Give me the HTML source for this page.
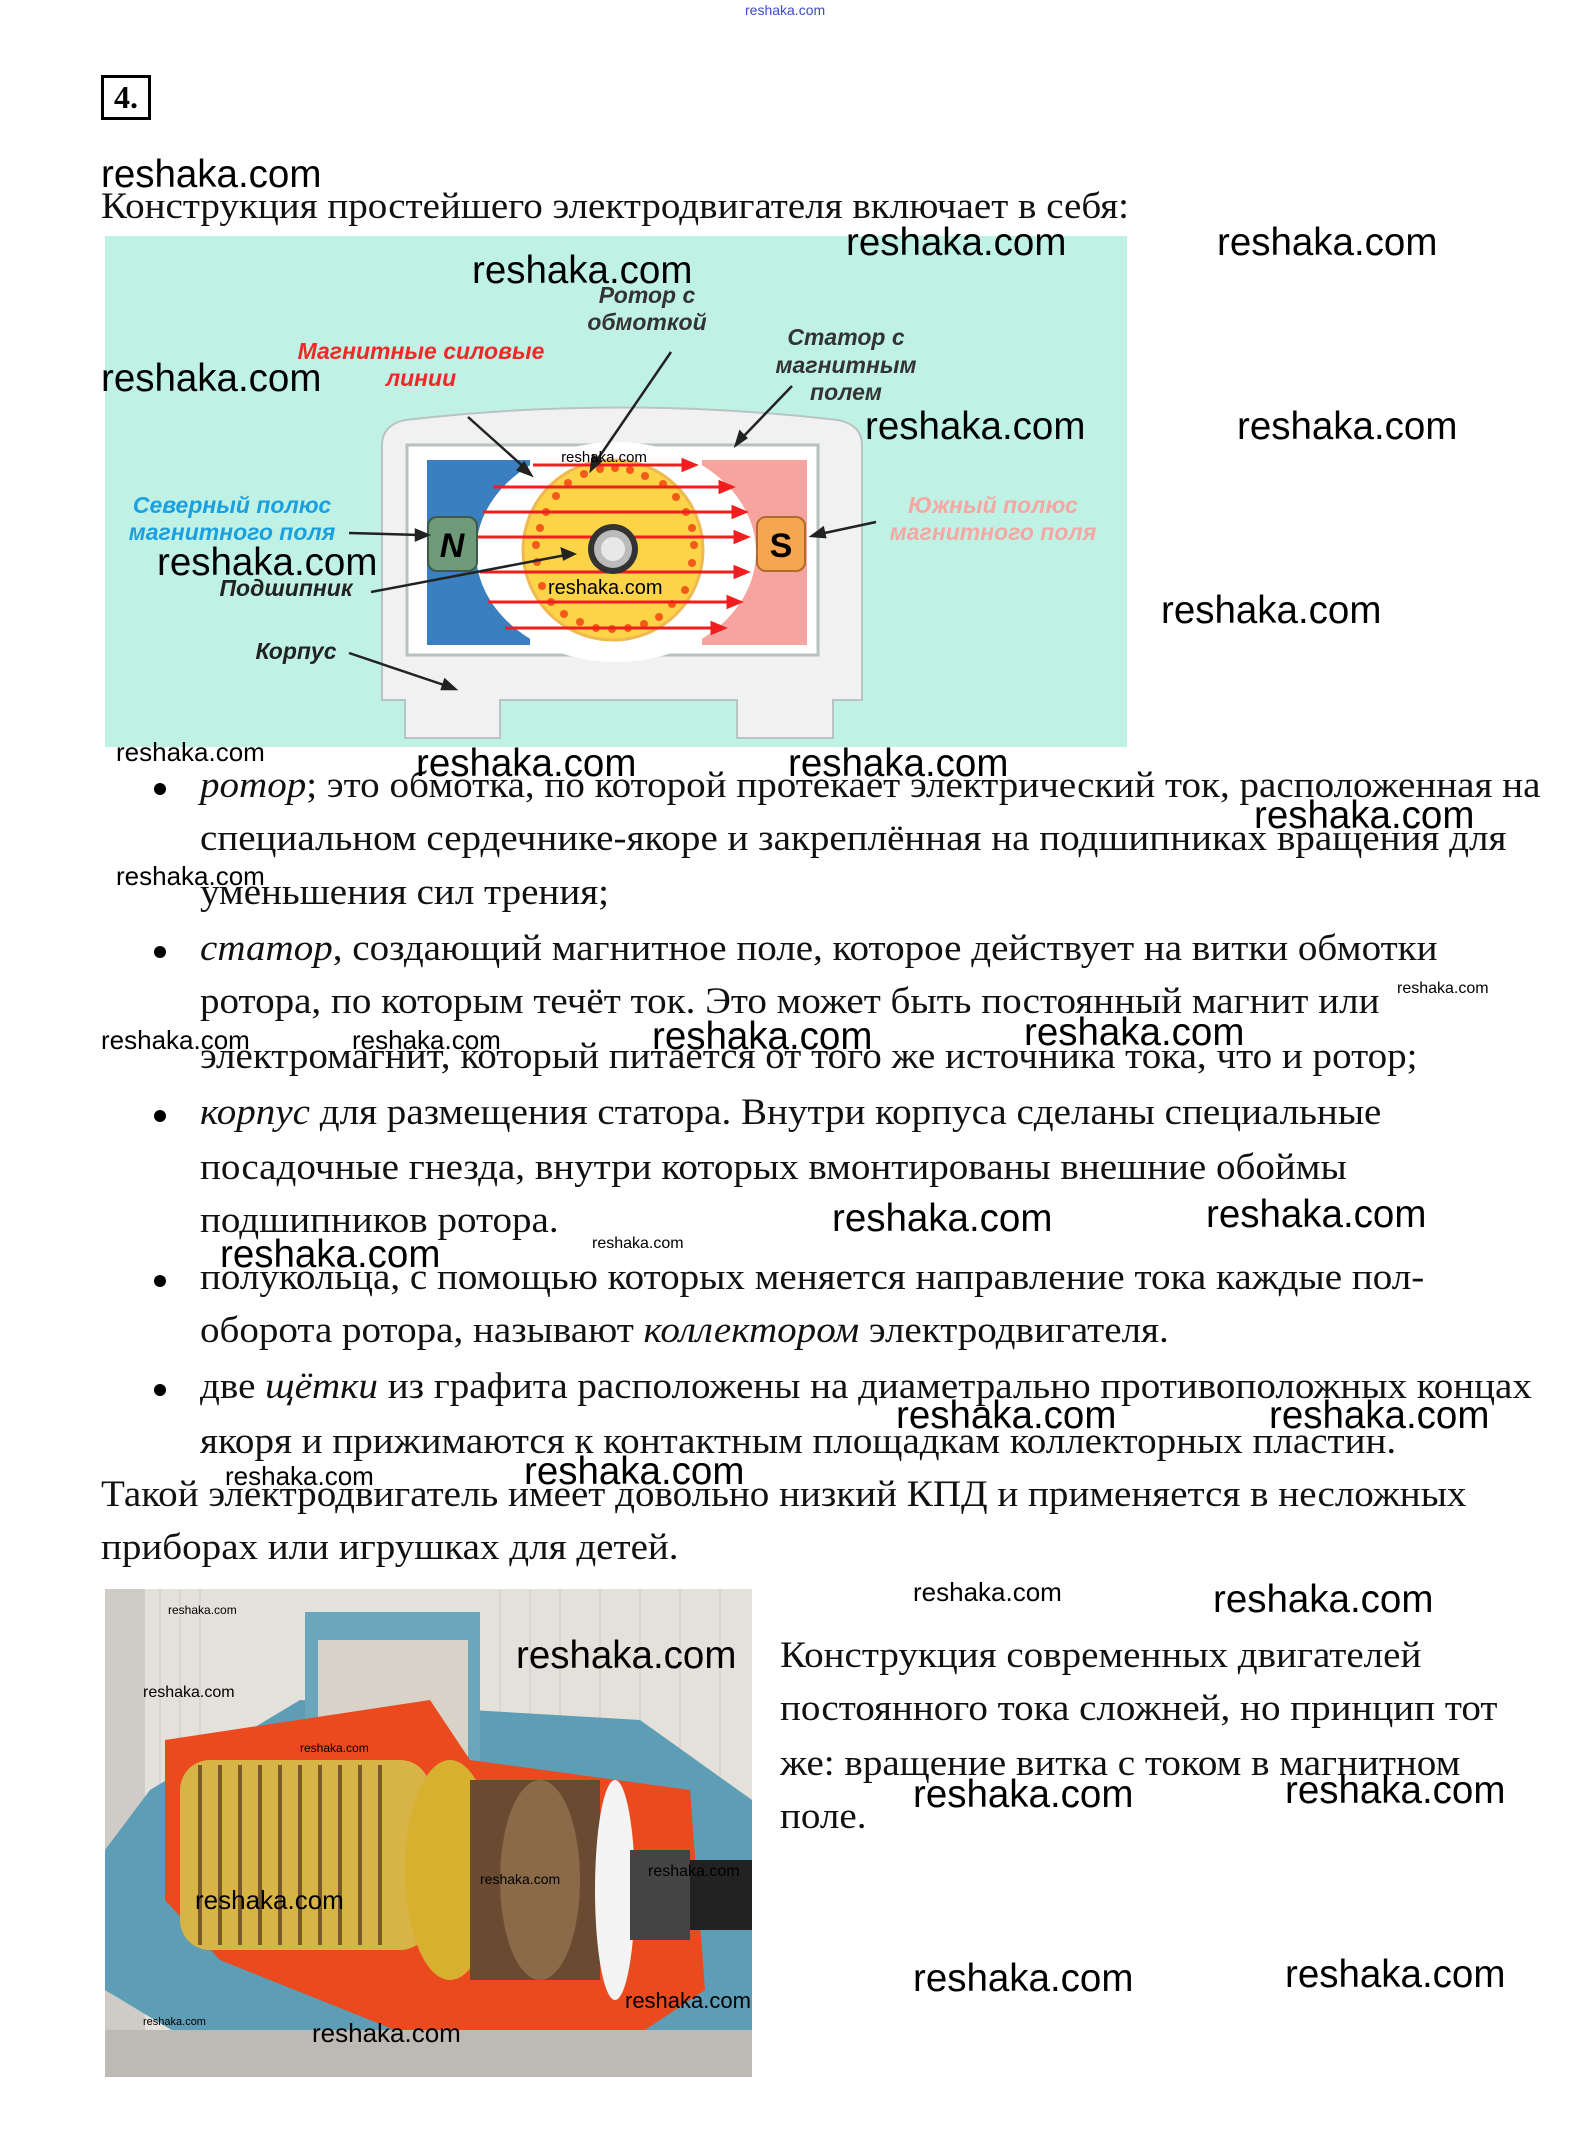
<!DOCTYPE html>
<html><head><meta charset="utf-8">
<style>
html,body{margin:0;padding:0;background:#fff;}
body{width:1582px;height:2137px;position:relative;overflow:hidden;}
.t{position:absolute;font-family:"Liberation Serif","Noto Serif CJK SC",serif;font-size:37px;line-height:44px;color:#111;white-space:nowrap;transform:scaleX(1.055);transform-origin:0 50%;}
.w{position:absolute;font-family:"Liberation Sans","DejaVu Sans",sans-serif;color:#000;white-space:nowrap;line-height:1.2;}
.b{font-size:38.5px}.s{font-size:26px}.x{font-size:16px}
.dot{position:absolute;width:12px;height:12px;border-radius:50%;background:#000;left:154px;}
</style></head><body>

<div class="w" style="left:745px;top:2px;font-size:14px;color:#3a4cc8;">reshaka.com</div>
<div style="position:absolute;left:101px;top:75px;width:44px;height:39px;border:3px solid #000;font-family:'Liberation Serif',serif;font-weight:bold;font-size:32px;line-height:39px;text-align:center;">4.</div>

<div class="t" style="left:101px;top:185px;">Конструкция простейшего электродвигателя включает в себя:</div>

<svg style="position:absolute;left:0;top:0" width="1582" height="760" viewBox="0 0 1582 760">
<rect x="105" y="236" width="1022" height="511" fill="#bff2e4"/>
<path d="M382 445 Q382 425 405 420 Q620 395 838 420 Q862 425 862 445 L862 700 L833 700 L833 738 L737 738 L737 700 L500 700 L500 738 L405 738 L405 700 L382 700 Z" fill="#f1f1f1" stroke="#b8c4c4" stroke-width="2"/>
<rect x="407" y="445" width="411" height="210" fill="#fff" stroke="#b8c0c0" stroke-width="3"/>
<rect x="427" y="460" width="110" height="185" fill="#3a80c0"/>
<rect x="700" y="460" width="107" height="185" fill="#f7a3a0"/>
<ellipse cx="616" cy="552" rx="140" ry="110" fill="#fff"/>
<rect x="530" y="460" width="172" height="185" fill="#fff"/>
<circle cx="613" cy="550" r="90" fill="#fdd348" stroke="#f0b850" stroke-width="3"/>
<g fill="#f25a1a">
<circle cx="584" cy="474" r="4"/><circle cx="600" cy="469" r="4"/><circle cx="615" cy="468" r="4"/><circle cx="630" cy="470" r="4"/><circle cx="645" cy="476" r="4"/>
<circle cx="568" cy="483" r="4"/><circle cx="663" cy="484" r="4"/><circle cx="556" cy="496" r="4"/><circle cx="676" cy="497" r="4"/>
<circle cx="546" cy="512" r="4"/><circle cx="686" cy="512" r="4"/><circle cx="540" cy="528" r="4"/><circle cx="692" cy="528" r="4"/>
<circle cx="536" cy="545" r="4"/><circle cx="694" cy="545" r="4"/><circle cx="537" cy="562" r="4"/><circle cx="692" cy="563" r="4"/>
<circle cx="542" cy="586" r="4"/><circle cx="685" cy="590" r="4"/><circle cx="551" cy="602" r="4"/><circle cx="672" cy="604" r="4"/>
<circle cx="564" cy="614" r="4"/><circle cx="659" cy="617" r="4"/><circle cx="580" cy="622" r="4"/><circle cx="596" cy="628" r="4"/><circle cx="612" cy="629" r="4"/><circle cx="628" cy="628" r="4"/><circle cx="644" cy="624" r="4"/>
</g>
<g stroke="#f01e1e" stroke-width="3" fill="#f01e1e">
<line x1="533" y1="465" x2="685" y2="465"/><path d="M695 465 l-12 -5 v10z"/>
<line x1="493" y1="487" x2="720" y2="487"/><path d="M732 487 l-12 -5 v10z"/>
<line x1="483" y1="512" x2="733" y2="512"/><path d="M745 512 l-12 -5 v10z"/>
<line x1="478" y1="537" x2="735" y2="537"/><path d="M747 537 l-12 -5 v10z"/>
<line x1="480" y1="572" x2="735" y2="572"/><path d="M747 572 l-12 -5 v10z"/>
<line x1="488" y1="602" x2="728" y2="602"/><path d="M740 602 l-12 -5 v10z"/>
<line x1="505" y1="628" x2="713" y2="628"/><path d="M724 628 l-12 -5 v10z"/>
</g>
<circle cx="613" cy="549" r="25" fill="#333"/><circle cx="613" cy="549" r="19" fill="#bbb"/><circle cx="613" cy="549" r="12" fill="#e8e8e8"/>
<rect x="428" y="517" width="49" height="54" rx="9" fill="#6f9a7a" stroke="#3d5a48" stroke-width="2"/>
<text x="452" y="557" font-family="Liberation Sans,sans-serif" font-weight="bold" font-style="italic" font-size="34" text-anchor="middle">N</text>
<rect x="757" y="517" width="48" height="54" rx="9" fill="#f6a650" stroke="#b06a2a" stroke-width="2"/>
<text x="781" y="557" font-family="Liberation Sans,sans-serif" font-weight="bold" font-size="34" text-anchor="middle">S</text>
<g stroke="#222" stroke-width="2.5" fill="#222">
<line x1="671" y1="352" x2="595" y2="463"/><path d="M591 470 l2 -14 l8 5z"/>
<line x1="468" y1="417" x2="526" y2="469"/><path d="M531 475 l-13 -5 l6 -7z"/>
<line x1="792" y1="386" x2="741" y2="439"/><path d="M736 445 l4 -13 l6 6z"/>
<line x1="349" y1="533" x2="420" y2="535"/><path d="M428 535 l-12 -5 v10z"/>
<line x1="876" y1="522" x2="820" y2="534"/><path d="M812 536 l11 -8 l2 9z"/>
<line x1="371" y1="592" x2="566" y2="555"/><path d="M574 554 l-12 -5 l2 10z"/>
<line x1="349" y1="653" x2="447" y2="686"/><path d="M455 689 l-13 0 l3 -9z"/>
</g>
<g font-family="Liberation Sans,DejaVu Sans,sans-serif" font-weight="bold" font-style="italic" font-size="23" text-anchor="middle">
<text x="647" y="303" fill="#333">Ротор с</text><text x="647" y="330" fill="#333">обмоткой</text>
<text x="421" y="359" fill="#f02828">Магнитные силовые</text><text x="421" y="386" fill="#f02828">линии</text>
<text x="846" y="345" fill="#333">Статор с</text><text x="846" y="373" fill="#333">магнитным</text><text x="846" y="400" fill="#333">полем</text>
<text x="232" y="513" fill="#1aa0e0">Северный полюс</text><text x="232" y="540" fill="#1aa0e0">магнитного поля</text>
<text x="993" y="513" fill="#f5a7a3">Южный полюс</text><text x="993" y="540" fill="#f5a7a3">магнитного поля</text>
<text x="286" y="596" fill="#222">Подшипник</text><text x="296" y="659" fill="#222">Корпус</text>
</g>
<text x="604" y="462" font-family="Liberation Sans,sans-serif" font-size="15" text-anchor="middle">reshaka.com</text>
<text x="548" y="594" font-family="Liberation Sans,sans-serif" font-size="20">reshaka.com</text>
</svg>

<div class="dot" style="top:783px"></div>
<div class="t" style="left:200px;top:764px;"><i>ротор</i>; это обмотка, по которой протекает электрический ток, расположенная на</div>
<div class="t" style="left:200px;top:817px;">специальном сердечнике-якоре и закреплённая на подшипниках вращения для</div>
<div class="t" style="left:200px;top:871px;">уменьшения сил трения;</div>
<div class="dot" style="top:946px"></div>
<div class="t" style="left:200px;top:927px;"><i>статор</i>, создающий магнитное поле, которое действует на витки обмотки</div>
<div class="t" style="left:200px;top:980px;">ротора, по которым течёт ток. Это может быть постоянный магнит или</div>
<div class="t" style="left:200px;top:1035px;">электромагнит, который питается от того же источника тока, что и ротор;</div>
<div class="dot" style="top:1110px"></div>
<div class="t" style="left:200px;top:1091px;"><i>корпус</i> для размещения статора. Внутри корпуса сделаны специальные</div>
<div class="t" style="left:200px;top:1146px;">посадочные гнезда, внутри которых вмонтированы внешние обоймы</div>
<div class="t" style="left:200px;top:1199px;">подшипников ротора.</div>
<div class="dot" style="top:1275px"></div>
<div class="t" style="left:200px;top:1256px;">полукольца, с помощью которых меняется направление тока каждые пол-</div>
<div class="t" style="left:200px;top:1309px;">оборота ротора, называют <i>коллектором</i> электродвигателя.</div>
<div class="dot" style="top:1384px"></div>
<div class="t" style="left:200px;top:1365px;">две <i>щётки</i> из графита расположены на диаметрально противоположных концах</div>
<div class="t" style="left:200px;top:1420px;">якоря и прижимаются к контактным площадкам коллекторных пластин.</div>
<div class="t" style="left:101px;top:1473px;">Такой электродвигатель имеет довольно низкий КПД и применяется в несложных</div>
<div class="t" style="left:101px;top:1526px;">приборах или игрушках для детей.</div>

<svg style="position:absolute;left:105px;top:1589px" width="647" height="488" viewBox="105 1589 647 488">
<rect x="105" y="1589" width="647" height="488" fill="#e4e0da"/>
<g stroke="#cfcac3" stroke-width="1">
<line x1="160" y1="1589" x2="160" y2="1800"/><line x1="180" y1="1589" x2="180" y2="1800"/><line x1="200" y1="1589" x2="200" y2="1800"/><line x1="500" y1="1589" x2="500" y2="1800"/><line x1="530" y1="1589" x2="530" y2="1800"/><line x1="560" y1="1589" x2="560" y2="1800"/><line x1="600" y1="1589" x2="600" y2="1800"/><line x1="640" y1="1589" x2="640" y2="1800"/><line x1="680" y1="1589" x2="680" y2="1800"/><line x1="720" y1="1589" x2="720" y2="1800"/>
</g>
<rect x="105" y="1589" width="40" height="488" fill="#cfccc8"/>
<polygon points="150,1790 300,1700 640,1720 752,1800 752,2030 560,2077 250,2077 105,1990 105,1850" fill="#5d9db6"/>
<rect x="305" y="1612" width="175" height="185" fill="#6aa6bc"/>
<rect x="318" y="1640" width="150" height="150" fill="#d8d2c8"/>
<polygon points="165,1740 430,1700 470,1760 690,1790 705,1990 600,2060 420,2040 220,1960 165,1900" fill="#ea4a1e"/>
<rect x="180" y="1760" width="250" height="190" rx="30" fill="#d8b446"/>
<g stroke="#7a5a2a" stroke-width="4">
<line x1="200" y1="1765" x2="200" y2="1945"/><line x1="220" y1="1765" x2="220" y2="1945"/><line x1="240" y1="1765" x2="240" y2="1945"/><line x1="260" y1="1765" x2="260" y2="1945"/><line x1="280" y1="1765" x2="280" y2="1945"/><line x1="300" y1="1765" x2="300" y2="1945"/><line x1="320" y1="1765" x2="320" y2="1945"/><line x1="340" y1="1765" x2="340" y2="1945"/><line x1="360" y1="1765" x2="360" y2="1945"/><line x1="380" y1="1765" x2="380" y2="1945"/>
</g>
<ellipse cx="450" cy="1870" rx="45" ry="110" fill="#d8b030"/>
<rect x="470" y="1780" width="130" height="200" fill="#6a4a30"/>
<ellipse cx="540" cy="1880" rx="40" ry="100" fill="#8a6a48"/>
<ellipse cx="615" cy="1890" rx="20" ry="110" fill="#f4f4f4"/>
<rect x="630" y="1850" width="60" height="90" fill="#444"/>
<rect x="690" y="1860" width="62" height="70" fill="#222"/>
<rect x="105" y="2030" width="647" height="47" fill="#bdbab5"/>
<g font-family="Liberation Sans,sans-serif" fill="#000">
<text x="168" y="1614" font-size="12">reshaka.com</text>
<text x="143" y="1697" font-size="16">reshaka.com</text>
<text x="300" y="1752" font-size="12">reshaka.com</text>
<text x="480" y="1884" font-size="14">reshaka.com</text>
<text x="648" y="1876" font-size="16">reshaka.com</text>
<text x="143" y="2025" font-size="11">reshaka.com</text>
</g>
</svg>

<div class="t" style="left:780px;top:1634px;">Конструкция современных двигателей</div>
<div class="t" style="left:780px;top:1687px;">постоянного тока сложней, но принцип тот</div>
<div class="t" style="left:780px;top:1742px;">же: вращение витка с током в магнитном</div>
<div class="t" style="left:780px;top:1795px;">поле.</div>

<div class="w b" style="left:101px;top:152px">reshaka.com</div>
<div class="w b" style="left:846px;top:220px">reshaka.com</div>
<div class="w b" style="left:1217px;top:220px">reshaka.com</div>
<div class="w b" style="left:472px;top:248px">reshaka.com</div>
<div class="w b" style="left:101px;top:356px">reshaka.com</div>
<div class="w b" style="left:865px;top:404px">reshaka.com</div>
<div class="w b" style="left:1237px;top:404px">reshaka.com</div>
<div class="w b" style="left:157px;top:540px">reshaka.com</div>
<div class="w b" style="left:1161px;top:588px">reshaka.com</div>
<div class="w b" style="left:416px;top:741px">reshaka.com</div>
<div class="w b" style="left:788px;top:741px">reshaka.com</div>
<div class="w b" style="left:1254px;top:793px">reshaka.com</div>
<div class="w b" style="left:652px;top:1014px">reshaka.com</div>
<div class="w b" style="left:1024px;top:1010px">reshaka.com</div>
<div class="w b" style="left:832px;top:1196px">reshaka.com</div>
<div class="w b" style="left:1206px;top:1192px">reshaka.com</div>
<div class="w b" style="left:220px;top:1232px">reshaka.com</div>
<div class="w b" style="left:896px;top:1393px">reshaka.com</div>
<div class="w b" style="left:1269px;top:1393px">reshaka.com</div>
<div class="w b" style="left:524px;top:1449px">reshaka.com</div>
<div class="w b" style="left:1213px;top:1577px">reshaka.com</div>
<div class="w b" style="left:516px;top:1633px">reshaka.com</div>
<div class="w b" style="left:913px;top:1772px">reshaka.com</div>
<div class="w b" style="left:1285px;top:1768px">reshaka.com</div>
<div class="w b" style="left:913px;top:1956px">reshaka.com</div>
<div class="w b" style="left:1285px;top:1952px">reshaka.com</div>
<div class="w s" style="left:116px;top:737px">reshaka.com</div>
<div class="w s" style="left:116px;top:861px">reshaka.com</div>
<div class="w s" style="left:101px;top:1025px">reshaka.com</div>
<div class="w s" style="left:352px;top:1025px">reshaka.com</div>
<div class="w s" style="left:225px;top:1461px">reshaka.com</div>
<div class="w s" style="left:913px;top:1577px">reshaka.com</div>
<div class="w s" style="left:195px;top:1885px">reshaka.com</div>
<div class="w s" style="left:312px;top:2018px">reshaka.com</div>
<div class="w" style="left:625px;top:1988px;font-size:22px">reshaka.com</div>
<div class="w x" style="left:1397px;top:979px">reshaka.com</div>
<div class="w x" style="left:592px;top:1234px">reshaka.com</div>
</body></html>
